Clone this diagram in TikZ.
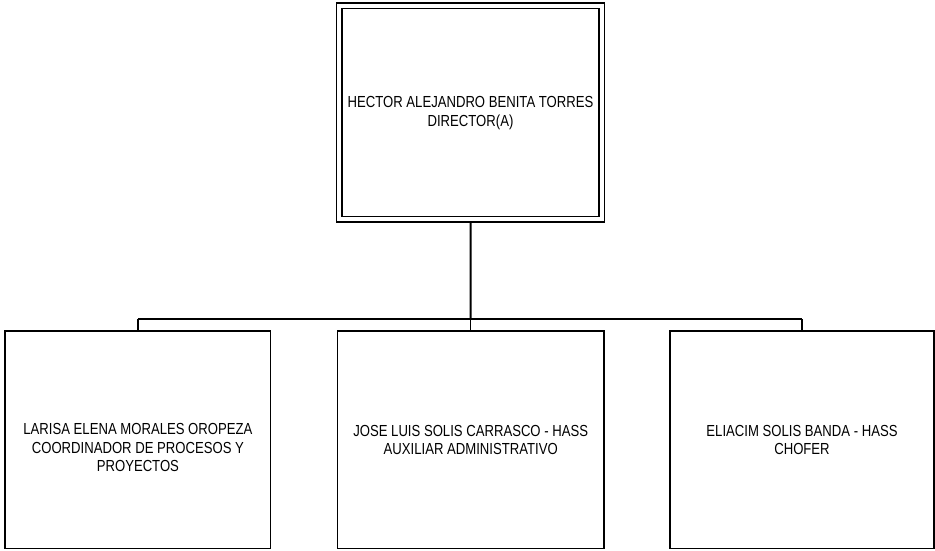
\documentclass[tikz,border=0pt]{standalone}
\usepackage{fontspec}
\setmainfont{Liberation Sans}[FakeStretch=0.82]
\begin{document}
\begin{tikzpicture}[x=1pt,y=-1pt,
  box/.style={draw=black,line width=1.3pt,rectangle,inner sep=0pt,outer sep=0pt,fill=white},
  dbox/.style={draw=black,line width=1.2pt,double=white,double distance=4.1pt,rectangle,inner sep=0pt,outer sep=0pt},
  lbl/.style={align=center,inner sep=0pt,font=\fontsize{16}{18.4}\selectfont},
  conn/.style={draw=black,line width=1.5pt}]
\useasboundingbox (0,0) rectangle (935,551);
\fill[white] (0,0) rectangle (935,551);
% top box
\node[dbox,minimum width=262.3pt,minimum height=213.7pt] (top) at (470.5,112.5) {};
\node[lbl] (toptxt) at (470.5,113) {HECTOR ALEJANDRO BENITA TORRES\\DIRECTOR(A)};
% bottom boxes
\node[box,minimum width=265.7pt,minimum height=217.3pt] (b1) at (137.9,439.7) {};
\node[box,minimum width=266.7pt,minimum height=217.3pt] (b2) at (470.7,439.7) {};
\node[box,minimum width=264pt,minimum height=217.3pt] (b3) at (802,439.7) {};
\node[lbl] (t1) at (137.9,447.5) {LARISA ELENA MORALES OROPEZA\\COORDINADOR DE PROCESOS Y\\PROYECTOS};
\node[lbl] (t2) at (470.7,440) {JOSE LUIS SOLIS CARRASCO - HASS\\AUXILIAR ADMINISTRATIVO};
\node[lbl] (t3) at (802,440) {ELIACIM SOLIS BANDA - HASS\\CHOFER};
% connectors
\coordinate (topb) at ([yshift=-2.65pt]top.south);
\coordinate (j) at (470.7,319);
\coordinate (jl) at (b1.north |- j);
\coordinate (jr) at (b3.north |- j);
\draw[conn,line width=2pt] (topb) -- (j);
\draw[conn] (jl) -- (jr);
\draw[conn] (jl) -- (b1.north);
\draw[conn] (j) -- (b2.north);
\draw[conn] (jr) -- (b3.north);
\end{tikzpicture}
\end{document}
